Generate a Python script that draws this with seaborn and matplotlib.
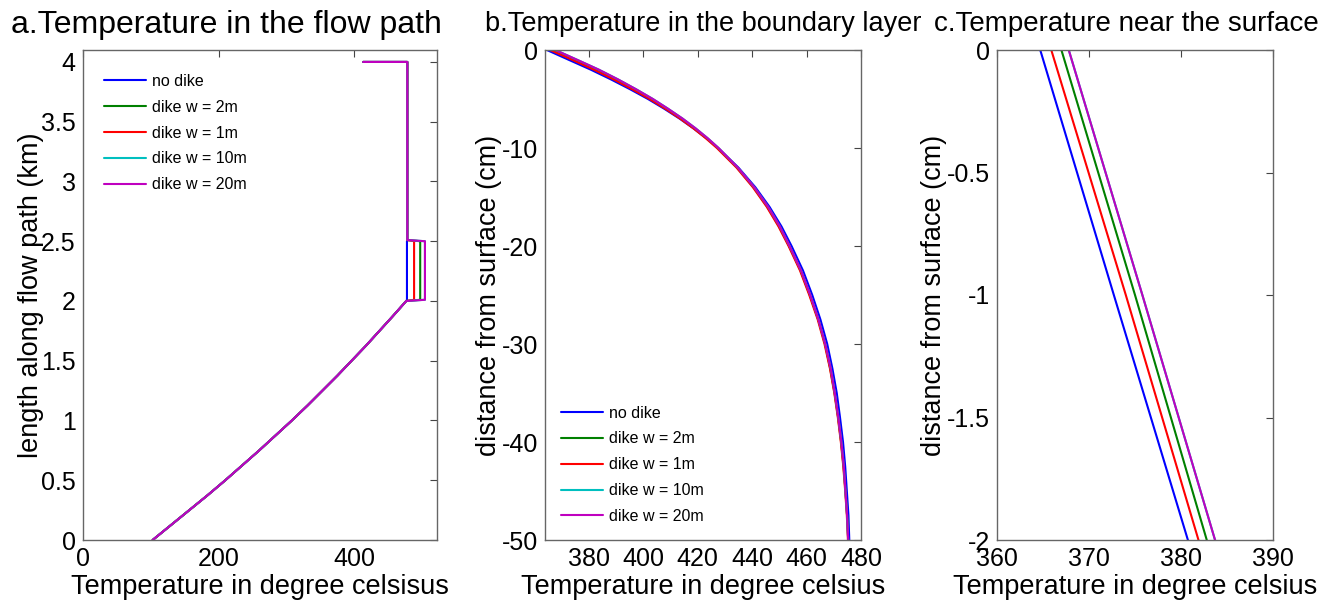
import matplotlib
matplotlib.use("Agg")
import matplotlib.pyplot as plt
import matplotlib.ticker as mticker
import numpy as np
import pandas as pd
import seaborn as sns

# series labels / colours (legend order)
labels = ["no dike", "dike w = 2m", "dike w = 1m", "dike w = 10m", "dike w = 20m"]
colors = ["#0000ff", "#008000", "#ff0000", "#00bfbf", "#bf00bf"]

# panel a: temperature along the flow path
a_main_T = [103, 130, 157, 184, 210, 235, 260, 284, 308, 331, 353, 375, 396, 417, 437, 457, 476.5]
a_main_L = [0, 0.125, 0.25, 0.375, 0.5, 0.625, 0.75, 0.875, 1.0, 1.125, 1.25, 1.375, 1.5, 1.625, 1.75, 1.875, 2.0]
a_dike_T = [477.5, 497, 488, 504, 504]
a_dike_L = [2.01, 2.5]
a_top_T = [478, 478, 413]
a_top_L = [2.51, 4.0, 4.0]

# panel b/c: temperature in the boundary layer
b_depth = [0, -1, -2, -3, -4, -5, -6, -7, -8, -9, -10, -12, -14, -16, -18, -20,
           -22.5, -25, -27.5, -30, -32.5, -35, -37.5, -40, -42.5, -45, -47.5, -50]
b_nodike = [364.7, 372.7, 380.75, 388.2, 395.2, 401.8, 407.8, 413.4, 418.5, 423.2, 427.5, 435.0, 441.2, 446.4,
            450.8, 454.5, 458.7, 462.1, 465.1, 467.6, 469.5, 471.1, 472.3, 473.4, 474.2, 474.8, 475.4, 475.7]
b_w2 = [367.0, 375.0, 382.8, 390.0, 396.7, 403.0, 408.7, 414.0, 418.9, 423.3, 427.4, 434.5, 440.5, 445.6,
        449.9, 453.6, 457.8, 461.2, 464.3, 466.8, 468.7, 470.3, 471.6, 472.7, 473.6, 474.3, 474.9, 475.3]
b_w1 = [365.9, 374.0, 381.9, 389.2, 396.0, 402.4, 408.2, 413.6, 418.5, 423.0, 427.1, 434.3, 440.3, 445.4,
        449.7, 453.4, 457.6, 461.0, 464.1, 466.6, 468.6, 470.2, 471.5, 472.6, 473.5, 474.2, 474.8, 475.2]
b_w10 = [367.8, 375.8, 383.7, 390.8, 397.4, 403.6, 409.2, 414.5, 419.3, 423.7, 427.7, 434.8, 440.8, 445.9,
         450.2, 453.8, 458.0, 461.4, 464.4, 466.9, 468.9, 470.4, 471.7, 472.8, 473.7, 474.3, 474.9, 475.3]
b_w20 = [367.8, 375.8, 383.7, 390.8, 397.4, 403.6, 409.2, 414.5, 419.3, 423.7, 427.7, 434.8, 440.8, 445.9,
         450.2, 453.8, 458.0, 461.4, 464.4, 466.9, 468.9, 470.4, 471.7, 472.8, 473.7, 474.3, 474.9, 475.3]
b_series = [b_nodike, b_w2, b_w1, b_w10, b_w20]

sns.set_style("white")
plt.rcParams["font.family"] = ["Liberation Sans", "DejaVu Sans"]
plt.rcParams["axes.unicode_minus"] = False
plt.rcParams["text.color"] = "black"
plt.rcParams["axes.labelcolor"] = "black"
plt.rcParams["xtick.color"] = "black"
plt.rcParams["ytick.color"] = "black"
FS = 19.5
LFS = 19.5
TFS = 18

fig = plt.figure(figsize=(13.42, 6.06), dpi=100)
W, H = 1342.0, 606.0
bot, top = 540.0, 50.0
ax_a = fig.add_axes([82.7 / W, (H - bot) / H, (436.5 - 82.7) / W, (bot - top) / H])
ax_b = fig.add_axes([545 / W, (H - bot) / H, (861 - 545) / W, (bot - top) / H])
ax_c = fig.add_axes([997 / W, (H - bot) / H, (1273 - 997) / W, (bot - top) / H])

leg_kw = dict(frameon=False, fontsize=11.5, handlelength=2.6, handletextpad=0.4,
              labelspacing=0.68, borderaxespad=0.6)

# panel a
for i in range(len(labels)):
    T = a_main_T + [a_dike_T[i], a_dike_T[i]] + a_top_T
    L = a_main_L + a_dike_L + a_top_L
    df = pd.DataFrame({"T": T, "L": L})
    sns.lineplot(data=df, x="T", y="L", sort=False, estimator=None, color=colors[i],
                 lw=1.5, label=labels[i], ax=ax_a)
ax_a.set_xlim(0, 521)
ax_a.set_ylim(0, 4.1)
ax_a.set_xticks([0, 200, 400])
ax_a.set_yticks(np.arange(0, 4.01, 0.5))
ax_a.set_title("a.Temperature in the flow path", fontsize=23, pad=12, x=0.406)
ax_a.set_xlabel("Temperature in degree celsisus", fontsize=LFS, labelpad=2)
ax_a.set_ylabel("length along flow path (km)", fontsize=LFS, labelpad=-2)
ax_a.legend(loc="upper left", bbox_to_anchor=(0.015, 0.984), **leg_kw)

# panel b and c
for ax in (ax_b, ax_c):
    for i in range(len(labels)):
        df = pd.DataFrame({"T": b_series[i], "d": b_depth})
        sns.lineplot(data=df, x="T", y="d", sort=False, estimator=None, color=colors[i],
                     lw=1.5, label=labels[i], ax=ax)
    ax.set_ylabel("distance from surface (cm)", fontsize=LFS, labelpad=0)
    ax.set_xlabel("Temperature in degree celsius", fontsize=LFS, labelpad=2)

ax_b.set_xlim(364, 480)
ax_b.set_ylim(-50, 0)
ax_b.set_xticks(np.arange(380, 481, 20))
ax_b.set_yticks(np.arange(-50, 1, 10))
ax_b.set_title("b.Temperature in the boundary layer", fontsize=FS, pad=14)
ax_b.legend(loc="lower left", **leg_kw)

ax_c.set_xlim(360, 390)
ax_c.set_ylim(-2, 0)
ax_c.set_xticks([360, 370, 380, 390])
ax_c.set_yticks([-2, -1.5, -1, -0.5, 0])
ax_c.set_title("c.Temperature near the surface", fontsize=20, pad=14, x=0.469)
ax_c.get_legend().remove()

fmt = mticker.FuncFormatter(lambda v, p: "%g" % v)
for ax in (ax_a, ax_b, ax_c):
    ax.xaxis.set_major_formatter(fmt)
    ax.yaxis.set_major_formatter(fmt)
    ax.tick_params(direction="in", length=5, width=0.8, color="#444444",
                   labelsize=TFS, top=True, right=True, pad=5)
    for s in ax.spines.values():
        s.set_color("#666666")
        s.set_linewidth(1.0)

fig.savefig("out.png", dpi=100)
